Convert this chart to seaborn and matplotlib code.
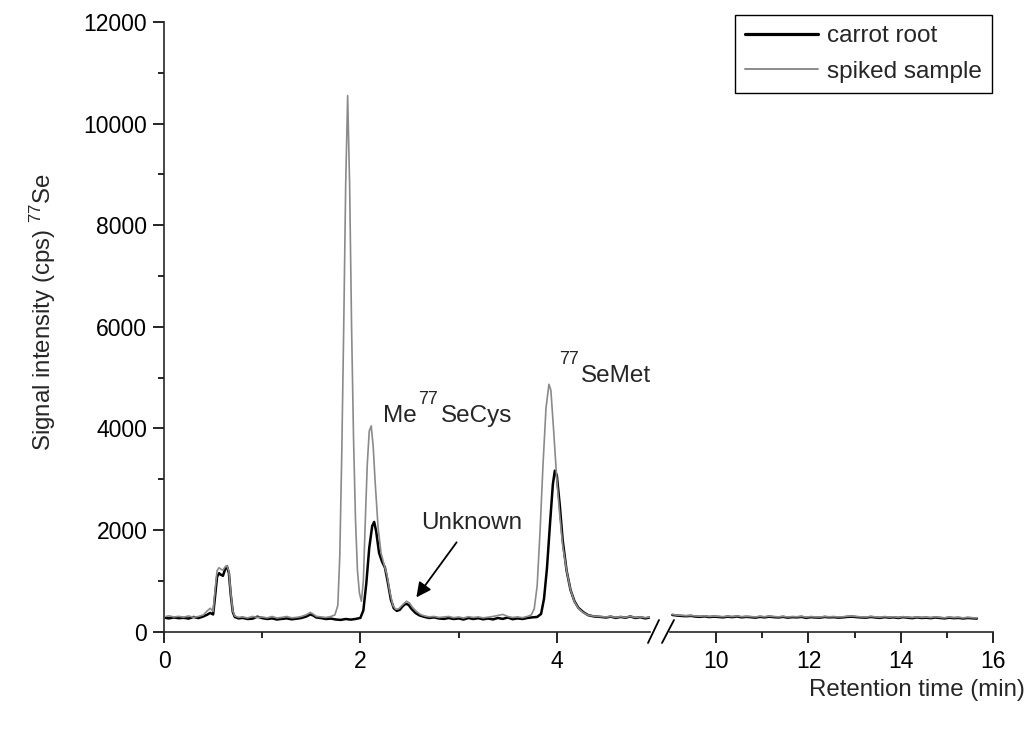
import numpy as np
import pandas as pd
import matplotlib
matplotlib.use("Agg")
import matplotlib.pyplot as plt
from matplotlib.lines import Line2D
from matplotlib.ticker import FixedLocator
import seaborn as sns

# ---------------- data ----------------
carrot_left = [(0.02,270),(0.05,262),(0.10,280),(0.15,266),(0.20,274),(0.25,258),(0.30,290),(0.35,268),
    (0.40,300),(0.44,335),(0.47,370),(0.50,340),(0.52,700),(0.54,1080),(0.56,1150),(0.58,1120),(0.60,1100),
    (0.62,1220),(0.64,1290),(0.66,1160),(0.68,720),(0.70,390),(0.72,290),(0.76,262),(0.80,272),(0.85,250),
    (0.90,256),(0.95,296),(1.00,268),(1.05,250),(1.10,262),(1.15,240),(1.20,252),(1.25,262),(1.30,244),
    (1.35,256),(1.40,270),(1.45,300),(1.49,340),(1.52,318),(1.55,280),(1.60,268),(1.65,250),(1.70,258),
    (1.75,240),(1.80,232),(1.85,250),(1.90,238),(1.95,250),(2.00,272),(2.03,420),(2.06,950),(2.09,1650),
    (2.12,2080),(2.14,2160),(2.16,1980),(2.19,1550),(2.22,1380),(2.25,1260),(2.28,960),(2.31,630),(2.34,460),
    (2.37,410),(2.40,430),(2.43,500),(2.46,550),(2.49,530),(2.52,450),(2.56,370),(2.60,322),(2.65,292),
    (2.70,270),(2.75,282),(2.80,260),(2.85,252),(2.90,270),(2.95,250),(3.00,262),(3.05,240),(3.10,270),
    (3.15,250),(3.20,266),(3.25,244),(3.30,260),(3.35,242),(3.40,270),(3.45,252),(3.50,280),(3.55,246),
    (3.60,262),(3.65,250),(3.70,270),(3.75,282),(3.80,290),(3.84,350),(3.87,650),(3.90,1250),(3.93,2100),
    (3.96,2900),(3.98,3170),(4.00,3080),(4.03,2500),(4.06,1800),(4.10,1200),(4.14,820),(4.18,600),(4.22,470),
    (4.27,385),(4.32,325),(4.38,300),(4.45,290),(4.50,280),(4.55,296),(4.60,272),(4.65,290),(4.70,276),
    (4.75,300),(4.80,270),(4.85,286),(4.90,262),(4.95,280)]

spiked_left = [(0.02,300),(0.05,312),(0.10,290),(0.15,302),(0.20,286),(0.25,310),(0.30,282),(0.35,300),
    (0.40,330),(0.44,410),(0.47,460),(0.50,400),(0.52,820),(0.54,1200),(0.56,1260),(0.58,1230),(0.60,1210),
    (0.62,1270),(0.64,1300),(0.66,1190),(0.68,760),(0.70,410),(0.72,310),(0.76,282),(0.80,292),(0.85,270),
    (0.90,300),(0.95,282),(1.00,290),(1.05,272),(1.10,300),(1.15,270),(1.20,282),(1.25,300),(1.30,272),
    (1.35,282),(1.40,300),(1.45,335),(1.49,380),(1.52,345),(1.55,302),(1.60,290),(1.65,280),(1.70,300),
    (1.74,330),(1.77,520),(1.79,1500),(1.81,3500),(1.83,6000),(1.85,8800),(1.87,10550),(1.89,8800),
    (1.91,6000),(1.93,3800),(1.95,2200),(1.97,1200),(1.99,760),(2.01,600),(2.03,1000),(2.05,2200),
    (2.07,3300),(2.09,3950),(2.11,4050),(2.13,3650),(2.15,2950),(2.18,2050),(2.21,1550),(2.24,1330),
    (2.27,1120),(2.30,780),(2.33,520),(2.36,440),(2.39,450),(2.43,530),(2.47,600),(2.50,565),(2.53,480),
    (2.57,400),(2.61,340),(2.65,312),(2.70,292),(2.75,300),(2.80,280),(2.85,290),(2.90,300),(2.95,276),
    (3.00,290),(3.05,270),(3.10,296),(3.15,280),(3.20,292),(3.25,272),(3.30,286),(3.35,300),(3.40,320),
    (3.45,340),(3.50,300),(3.55,280),(3.60,292),(3.65,276),(3.70,300),(3.74,330),(3.77,450),(3.80,900),
    (3.83,2000),(3.86,3300),(3.89,4400),(3.92,4870),(3.94,4750),(3.97,3900),(4.00,3000),(4.03,2300),
    (4.06,1700),(4.10,1200),(4.14,820),(4.18,590),(4.22,460),(4.27,375),(4.32,325),(4.38,306),(4.45,296),
    (4.50,290),(4.55,300),(4.60,282),(4.65,296),(4.70,284),(4.75,302),(4.80,280),(4.85,292),(4.90,276),
    (4.95,290)]

t_right = [9.05, 9.15, 9.25, 9.35, 9.45, 9.55, 9.65, 9.75, 9.85, 9.95,
           10.05, 10.15, 10.25, 10.35, 10.45, 10.55, 10.65, 10.75, 10.85, 10.95,
           11.05, 11.15, 11.25, 11.35, 11.45, 11.55, 11.65, 11.75, 11.85, 11.95,
           12.05, 12.15, 12.25, 12.35, 12.45, 12.55, 12.65, 12.75, 12.85, 12.95,
           13.05, 13.15, 13.25, 13.35, 13.45, 13.55, 13.65, 13.75, 13.85, 13.95,
           14.05, 14.15, 14.25, 14.35, 14.45, 14.55, 14.65, 14.75, 14.85, 14.95,
           15.05, 15.15, 15.25, 15.35, 15.45, 15.55, 15.65]
carrot_right = [330, 318, 310, 305, 312, 298, 292, 302, 288, 296,
                290, 282, 296, 286, 300, 282, 292, 286, 276, 292,
                282, 296, 286, 280, 292, 276, 286, 282, 292, 272,
                286, 280, 276, 290, 282, 286, 276, 282, 292, 296,
                286, 280, 276, 290, 280, 272, 286, 276, 282, 270,
                286, 276, 266, 282, 270, 276, 266, 280, 270, 262,
                276, 266, 272, 260, 270, 264, 258]
spiked_right = [340, 326, 322, 314, 320, 310, 304, 312, 300, 306,
                302, 296, 306, 298, 310, 296, 302, 298, 290, 304,
                294, 306, 298, 292, 302, 290, 298, 294, 304, 286,
                298, 292, 288, 300, 294, 298, 290, 294, 304, 308,
                298, 292, 288, 302, 292, 284, 298, 288, 294, 282,
                296, 288, 280, 292, 282, 288, 278, 292, 282, 274,
                288, 278, 284, 272, 282, 276, 270]

series_names = ["carrot root", "spiked sample"]
x_ticks_left = [0, 2, 4]
x_ticks_right = [10, 12, 14, 16]
y_ticks = [0, 2000, 4000, 6000, 8000, 10000, 12000]

# ---------------- style ----------------
sns.set_style("ticks")
plt.rcParams["font.family"] = ["Liberation Sans", "DejaVu Sans"]
plt.rcParams["mathtext.fontset"] = "custom"
plt.rcParams["mathtext.rm"] = "Liberation Sans"
plt.rcParams["mathtext.it"] = "Liberation Sans:italic"
plt.rcParams["mathtext.bf"] = "Liberation Sans:bold"

BLACK = "#000000"
GRAY = "#8a8a8a"
LW_B = 1.8
LW_G = 1.2
FS = 17.5      # annotations / legend
SFS = 13       # superscripts
TFS = 16.5     # tick labels
LFS = 17.3     # axis titles

fig = plt.figure(figsize=(10.33, 7.33), dpi=100)
ax_l = fig.add_axes([0.1588, 0.1382, 0.4705, 0.8318])
ax_r = fig.add_axes([0.6486, 0.1382, 0.3127, 0.8318])

df_cl = pd.DataFrame(carrot_left, columns=["time", "signal"])
df_sl = pd.DataFrame(spiked_left, columns=["time", "signal"])
df_cr = pd.DataFrame({"time": t_right, "signal": carrot_right})
df_sr = pd.DataFrame({"time": t_right, "signal": spiked_right})

sns.lineplot(data=df_cl, x="time", y="signal", ax=ax_l, color=BLACK, linewidth=LW_B,
             estimator=None, label=series_names[0])
sns.lineplot(data=df_sl, x="time", y="signal", ax=ax_l, color=GRAY, linewidth=LW_G,
             estimator=None, label=series_names[1])
sns.lineplot(data=df_cr, x="time", y="signal", ax=ax_r, color=BLACK, linewidth=LW_B,
             estimator=None)
sns.lineplot(data=df_sr, x="time", y="signal", ax=ax_r, color=GRAY, linewidth=LW_G,
             estimator=None)

handles, labels = ax_l.get_legend_handles_labels()
for a in (ax_l, ax_r):
    if a.get_legend() is not None:
        a.get_legend().remove()

# axes limits & ticks
for a in (ax_l, ax_r):
    a.set_ylim(0, 12000)
    a.set_xlabel("")
    a.set_ylabel("")
    for s in ("top", "right"):
        a.spines[s].set_visible(False)
    a.spines["bottom"].set_linewidth(1.2)
    a.tick_params(axis="both", which="major", direction="out", length=8, width=1.2,
                  labelsize=TFS, color="black", labelcolor="black")
    a.tick_params(axis="both", which="minor", direction="out", length=4.3, width=1.2,
                  color="black")
    a.tick_params(axis="x", which="major", pad=5)

ax_l.set_xlim(0, 4.95)
ax_l.set_xticks(x_ticks_left)
ax_l.xaxis.set_minor_locator(FixedLocator([1, 3]))
ax_l.set_yticks(y_ticks)
ax_l.yaxis.set_minor_locator(FixedLocator([1000, 3000, 5000, 7000, 9000, 11000]))
ax_l.spines["left"].set_linewidth(1.2)
ax_l.tick_params(axis="y", which="major", pad=4)

ax_r.set_xlim(9, 16)
ax_r.set_xticks(x_ticks_right)
ax_r.xaxis.set_minor_locator(FixedLocator([11, 13, 15]))
ax_r.spines["left"].set_visible(False)
ax_r.tick_params(axis="y", which="both", left=False, labelleft=False)

# axis titles
ax_l.set_ylabel(r"Signal intensity (cps) $^{\mathregular{77}}$Se", fontsize=LFS)
ax_l.yaxis.set_label_coords(-0.218, 0.525)
ax_r.set_xlabel("Retention time (min)", fontsize=LFS)
ax_r.xaxis.set_label_coords(1.099, -0.0956)
ax_r.xaxis.label.set_ha("right")
ax_r.xaxis.label.set_va("center")

# annotations with Origin-like superscripts
SUP_DY = 23.5  # pixels from bbox bottom of the main text to the superscript baseline

me = ax_l.text(2.23, 4120, "Me", fontsize=FS, ha="left", va="baseline")
s77a = ax_l.annotate("77", xy=(1, 0), xycoords=me, xytext=(1.5, SUP_DY),
                     textcoords="offset pixels", fontsize=SFS, ha="left", va="baseline")
ax_l.annotate("SeCys", xy=(1, 0), xycoords=(s77a, me), xytext=(2.5, 0),
              textcoords="offset pixels", fontsize=FS, ha="left", va="bottom")

semet = ax_l.text(4.25, 4910, "SeMet", fontsize=FS, ha="left", va="baseline")
ax_l.annotate("77", xy=(0, 0), xycoords=semet, xytext=(-2.5, SUP_DY),
              textcoords="offset pixels", fontsize=SFS, ha="right", va="baseline")

ax_l.text(2.62, 2030, "Unknown", fontsize=FS, ha="left", va="baseline")
ax_l.annotate("", xy=(2.57, 675), xytext=(2.98, 1760),
              arrowprops=dict(arrowstyle="-|>", color="black", lw=1.3, mutation_scale=22,
                              shrinkA=0, shrinkB=0))

# axis break marks
W, H = 1033.0, 733.0
for (x0, y0, x1, y1) in [(648, 643, 659, 620), (662, 643, 674, 620)]:
    fig.add_artist(Line2D([x0 / W, x1 / W], [1 - y0 / H, 1 - y1 / H],
                          transform=fig.transFigure, color="black", lw=1.3))

# legend
leg = fig.legend(handles, labels, loc="upper right",
                 bbox_to_anchor=(992 / W, 1 - 15 / H), bbox_transform=fig.transFigure,
                 frameon=True, fancybox=False, shadow=False, edgecolor="black",
                 framealpha=1, fontsize=FS, handlelength=3.0, handletextpad=0.35,
                 borderpad=0.42, labelspacing=0.55, borderaxespad=0)
leg.get_frame().set_linewidth(1.0)
for h, lw in zip(leg.get_lines(), (2.3, 1.4)):
    h.set_linewidth(lw)

fig.savefig("out.png", dpi=100)
